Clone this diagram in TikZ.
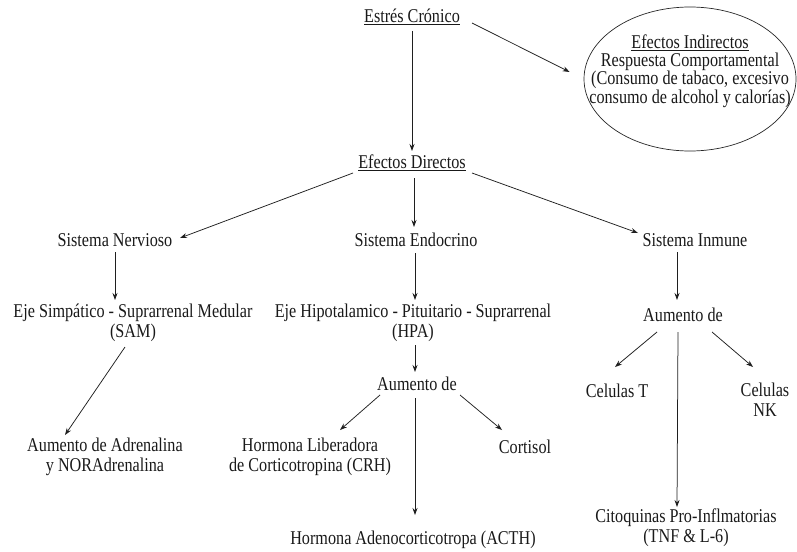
\documentclass[tikz,border=0pt]{standalone}
\usepackage{fontspec}
\setmainfont[FakeStretch=0.83]{Liberation Serif}
\usetikzlibrary{arrows.meta,calc,shapes.geometric}

\begin{document}
\begin{tikzpicture}[x=1pt,y=-1pt,
  lbl/.style={inner sep=0pt,align=center,text=black!90,
    font=\fontsize{19.5}{20}\selectfont},
  oval/.style={draw=black!85,line width=0.7pt,ellipse,
    minimum width=212pt,minimum height=144pt,inner sep=0pt},
  arr/.style={draw=black!88,line width=0.75pt,
    -{Stealth[length=7pt,width=5pt]}}]
\useasboundingbox (0,0) rectangle (797,551);

% top level
\node[lbl] (estres) at (412,17) {\underline{Estrés Crónico}};
\node[oval] (ell) at (690,79) {};
\node[lbl,font=\fontsize{19.5}{18.3}\selectfont] (indtxt) at (690,71)
  {\underline{Efectos Indirectos}\\Respuesta Comportamental\\(Consumo de tabaco, excesivo\\consumo de alcohol y calorías)};
\node[lbl] (directos) at (412,163) {\underline{Efectos Directos}};

% systems
\node[lbl] (nerv) at (115,240) {Sistema Nervioso};
\node[lbl] (endo) at (416,240) {Sistema Endocrino};
\node[lbl] (inm) at (695,240) {Sistema Inmune};

% axes
\node[lbl] (sam) at (133,323) {Eje Simpático - Suprarrenal Medular\\(SAM)};
\node[lbl] (hpa) at (413,323) {Eje Hipotalamico - Pituitario - Suprarrenal\\(HPA)};
\node[lbl] (aumI) at (683,315) {Aumento de};

% effects
\node[lbl] (aumH) at (417,384) {Aumento de};
\node[lbl] (adr) at (105,457) {Aumento de Adrenalina\\y NORAdrenalina};
\node[lbl] (crh) at (310,457) {Hormona Liberadora\\de Corticotropina (CRH)};
\node[lbl] (cort) at (525,447) {Cortisol};
\node[lbl] (acth) at (413,540) {Hormona Adenocorticotropa (ACTH)};
\node[lbl] (celT) at (617,391) {Celulas T};
\node[lbl] (celNK) at (765,400) {Celulas\\NK};
\node[lbl] (cito) at (686,528) {Citoquinas Pro-Inflmatorias\\(TNF \& L-6)};

% connectors
\draw[arr] ($(estres.center)+(0,14)$) -- ($(directos.center)+(0,-12)$);
\draw[arr] ($(estres.center)+(60,6)$) -- ($(ell.west)+(-14,-7)$);

\draw[arr] ($(directos.center)+(-59,10)$) -- ($(nerv.center)+(65,-2)$);
\draw[arr] ($(directos.center)+(2,15)$) -- ($(endo.center)+(-2,-13)$);
\draw[arr] ($(directos.center)+(60,10)$) -- ($(inm.center)+(-57,-7)$);

\draw[arr] ($(nerv.center)+(0,12)$) -- ($(sam.center)+(-18,-23)$);
\draw[arr] ($(endo.center)+(-1,13)$) -- ($(hpa.center)+(2,-23)$);
\draw[arr] ($(inm.center)+(-18,12)$) -- ($(aumI.center)+(-6,-15)$);

\draw[arr] ($(sam.center)+(-8,24)$) -- ($(adr.center)+(-40,-22)$);
\draw[arr] ($(hpa.center)+(2,22)$) -- ($(aumH.center)+(-2,-12)$);

\draw[arr] ($(aumH.center)+(-37,11)$) -- ($(crh.center)+(30,-27)$);
\draw[arr] ($(aumH.center)+(43,11)$) -- ($(cort.center)+(-23,-17)$);
\draw[arr] ($(aumH.center)+(-2,14)$) -- ($(acth.center)+(2,-25)$);

\draw[arr] ($(aumI.center)+(-26,17)$) -- ($(celT.center)+(-2,-24)$);
\draw[arr] ($(aumI.center)+(-5,17)$) -- ($(cito.center)+(-9,-21)$);
\draw[arr] ($(aumI.center)+(29,17)$) -- ($(celNK.center)+(-12,-33)$);
\end{tikzpicture}
\end{document}
